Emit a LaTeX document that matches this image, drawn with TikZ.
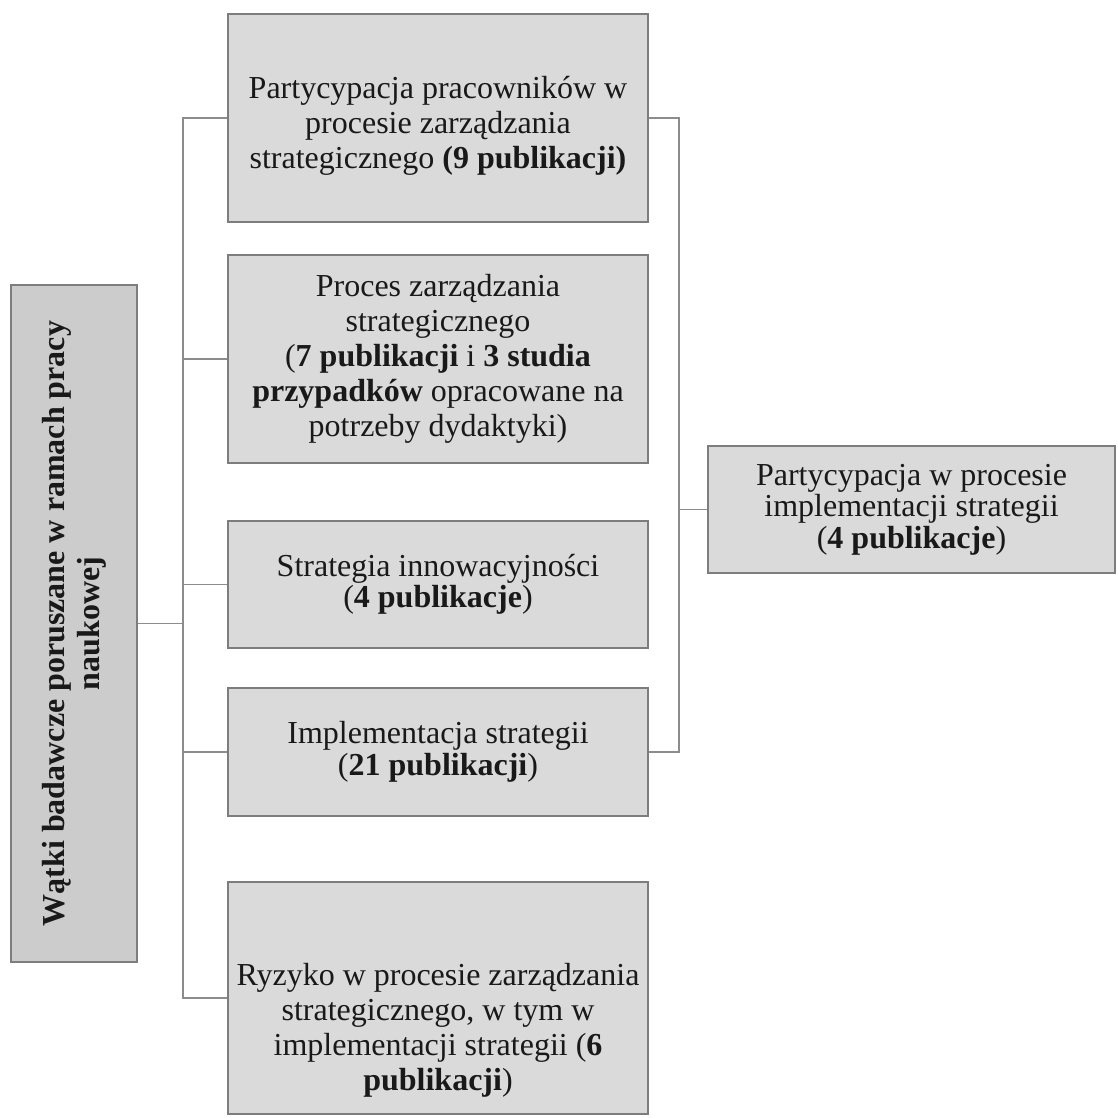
\documentclass[tikz,border=0pt]{standalone}
\usepackage{fontspec}
\setmainfont{Liberation Serif}
\definecolor{boxfill}{RGB}{218,218,218}
\definecolor{leftfill}{RGB}{204,204,204}
\definecolor{boxline}{RGB}{125,125,125}
\definecolor{connline}{RGB}{140,140,140}
\definecolor{txt}{RGB}{25,25,25}
\tikzset{
  topic/.style={draw=boxline, line width=1.4pt, fill=boxfill, inner sep=0pt,
    align=center, text=txt, font=\fontsize{32}{35}\selectfont},
  tight/.style={font=\fontsize{32}{31.5}\selectfont},
  conn/.style={draw=connline, line width=1.8pt}
}
\begin{document}
\begin{tikzpicture}[x=1pt,y=-1pt]
\useasboundingbox[fill=white] (0,0) rectangle (1117,1118);
% left rotated box
\node[topic, fill=leftfill, rotate=90, minimum width=677pt, minimum height=126pt,
  font=\fontsize{32}{35}\selectfont\bfseries] (L) at (74,623.5)
  {Wątki badawcze poruszane w ramach pracy\\naukowej};
% middle column
\node[topic, minimum width=420pt, minimum height=208pt] (B1) at (438,118)
  {\rule{0pt}{38pt}Partycypacja pracowników w\\procesie zarządzania\\strategicznego \textbf{(9 publikacji)}};
\node[topic, minimum width=420pt, minimum height=208pt] (B2) at (438,359)
  {Proces zarządzania\\strategicznego\\(\textbf{7 publikacji} i \textbf{3 studia}\\\textbf{przypadków} opracowane na\\potrzeby dydaktyki)};
\node[topic, tight, minimum width=420pt, minimum height=127pt] (B3) at (438,584.5)
  {Strategia innowacyjności\\(\textbf{4 publikacje})};
\node[topic, tight, minimum width=420pt, minimum height=128pt] (B4) at (438,752)
  {Implementacja strategii\\(\textbf{21 publikacji})};
\node[topic, minimum width=420pt, minimum height=232pt] (B5) at (438,998)
  {\rule{0pt}{86pt}Ryzyko w procesie zarządzania\\strategicznego, w tym w\\implementacji strategii (\textbf{6}\\\textbf{publikacji})};
% right box
\node[topic, tight, minimum width=407pt, minimum height=127pt] (R) at (911.5,509.5)
  {Partycypacja w procesie\\implementacji strategii\\(\textbf{4 publikacje})};
% trunks
\coordinate (lt) at (183,0);
\coordinate (rt) at (679,0);
% left connectors
\draw[conn] (B1.west) -- (B1.west -| lt) -- (B5.west -| lt) -- (B5.west);
\draw[conn] (B2.west) -- (B2.west -| lt);
\draw[conn] (B3.west) -- (B3.west -| lt);
\draw[conn] (B4.west) -- (B4.west -| lt);
\draw[conn] (L.south) -- (L.south -| lt);
% right connectors
\draw[conn] (B1.east) -- (B1.east -| rt) -- (B4.east -| rt) -- (B4.east);
\draw[conn] (R.west) -- (R.west -| rt);
\end{tikzpicture}
\end{document}
